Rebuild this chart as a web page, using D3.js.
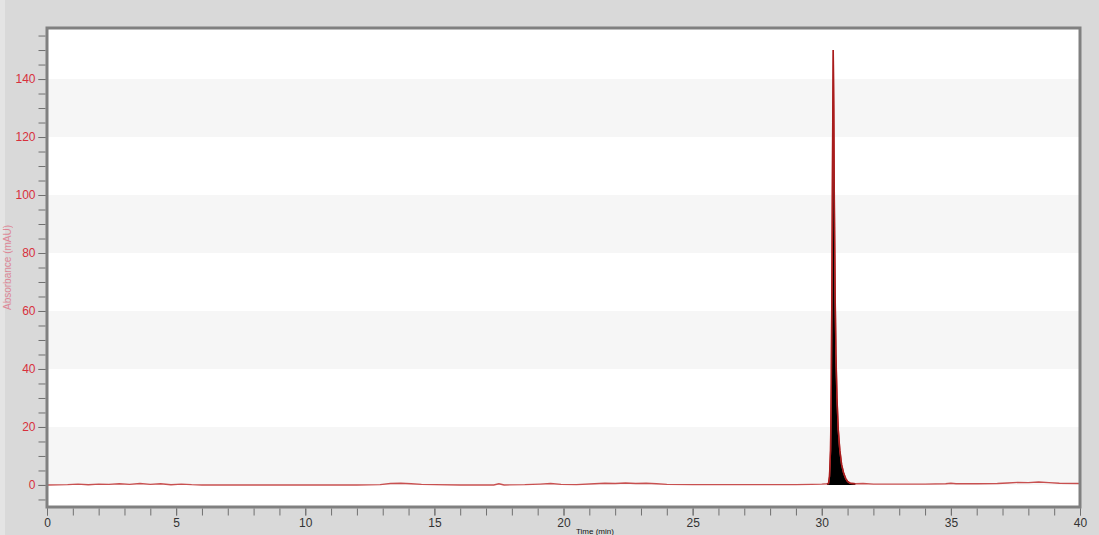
<!DOCTYPE html>
<html>
<head>
<meta charset="utf-8">
<script src="https://cdn.jsdelivr.net/npm/d3@7"></script>
<style>
  html, body { margin: 0; padding: 0; background: #d9d9d9; }
  svg { display: block; }
</style>
</head>
<body>
<svg id="chart" width="1099" height="535"></svg>
<script>
// Retention time (min) and detector signal (mAU)
const timeMin = [
  0, 0.8, 1.2, 1.6, 2.0, 2.4, 2.8, 3.2, 3.6, 4.0, 4.4, 4.8, 5.2, 5.6, 6.0,
  7, 8, 9, 10, 11, 12, 12.9, 13.3, 13.7, 14.1, 14.5, 15, 16, 17.3, 17.5, 17.7,
  18.5, 19.1, 19.5, 19.9, 20.5, 21.2, 21.6, 22.0, 22.4, 22.8, 23.2, 23.6, 24.0,
  25, 26, 27, 28, 29, 29.6, 30.0, 30.2,
  30.26, 30.30, 30.34, 30.37, 30.40, 30.425, 30.445, 30.465, 30.49, 30.52, 30.55,
  30.59, 30.64, 30.70, 30.77, 30.85, 30.93, 31.0, 31.1,
  31.3, 31.6, 32, 33, 34, 34.8, 35.0, 35.2, 36, 36.8, 37.2, 37.6, 38.0, 38.4,
  38.8, 39.2, 40
];
const signal = [
  0.0, 0.1, 0.3, 0.1, 0.3, 0.2, 0.4, 0.2, 0.5, 0.2, 0.4, 0.1, 0.3, 0.1, 0.0,
  0.0, 0.0, 0.0, 0.0, 0.0, 0.0, 0.1, 0.5, 0.6, 0.4, 0.2, 0.1, 0.0, 0.0, 0.4, 0.0,
  0.1, 0.3, 0.5, 0.2, 0.1, 0.4, 0.6, 0.5, 0.7, 0.5, 0.6, 0.4, 0.2,
  0.1, 0.1, 0.1, 0.1, 0.1, 0.2, 0.3, 0.4,
  0.5, 3, 12, 35, 80, 125, 150, 130, 95, 65, 45,
  30, 19, 12, 7, 4, 2.2, 1.2, 0.6,
  0.4, 0.5, 0.3, 0.3, 0.3, 0.4, 0.6, 0.4, 0.4, 0.5, 0.7, 0.9, 0.8, 1.0,
  0.8, 0.6, 0.5
];
const peakStart = 30.2, peakEnd = 31.3;

const xMajorTicks = [0, 5, 10, 15, 20, 25, 30, 35, 40];
const xMinorTicks = d3.range(0, 41, 1);
const yMajorTicks = [0, 20, 40, 60, 80, 100, 120, 140];
const yMinorTicks = d3.range(-5, 156, 5);

const xTitle = "Time (min)";
const yTitle = "Absorbance (mAU)";

const svg = d3.select("#chart");
const W = 1099, H = 535;
const plot = { left: 47, right: 1080, top: 28, bottom: 507 };
const font = "Liberation Sans, Arial, sans-serif";

const x = d3.scaleLinear().domain([0, 40]).range([plot.left, plot.right]);
const y = d3.scaleLinear().domain([-7.6, 157.6]).range([plot.bottom, plot.top]);

// page background
svg.append("rect").attr("width", W).attr("height", H).attr("fill", "#d9d9d9");
svg.append("rect").attr("x", 0).attr("y", 0).attr("width", 5).attr("height", H).attr("fill", "#e4e4e4");

const defs = svg.append("defs");
defs.append("clipPath").attr("id", "plotClip")
  .append("rect").attr("x", plot.left).attr("y", plot.top)
  .attr("width", plot.right - plot.left).attr("height", plot.bottom - plot.top);

// y-axis title along the left edge
svg.append("text")
  .attr("transform", `translate(11,${(y(60) + y(90)) / 2}) rotate(-90)`)
  .attr("text-anchor", "middle")
  .attr("font-family", font)
  .attr("font-size", 10)
  .attr("fill", "#e0506a")
  .attr("opacity", 0.6)
  .text(yTitle);

// plot area with alternating bands
svg.append("rect")
  .attr("x", plot.left).attr("y", plot.top)
  .attr("width", plot.right - plot.left).attr("height", plot.bottom - plot.top)
  .attr("fill", "#ffffff");
const bandPairs = [];
for (let i = 0; i < yMajorTicks.length - 1; i += 2) bandPairs.push([yMajorTicks[i], yMajorTicks[i + 1]]);
svg.append("g").selectAll("rect").data(bandPairs).join("rect")
  .attr("x", plot.left).attr("width", plot.right - plot.left)
  .attr("y", d => y(d[1])).attr("height", d => y(d[0]) - y(d[1]))
  .attr("fill", "#f6f6f6");

const data = timeMin.map((t, i) => ({ t, v: signal[i] }));
const g = svg.append("g").attr("clip-path", "url(#plotClip)");

// filled peak
const peakData = data.filter(d => d.t >= peakStart && d.t <= peakEnd);
g.append("path")
  .datum(peakData)
  .attr("fill", "#000000")
  .attr("d", d3.area().x(d => x(d.t)).y0(y(0)).y1(d => y(d.v)));

// trace
g.append("path")
  .datum(data)
  .attr("fill", "none")
  .attr("stroke", "#c85050")
  .attr("stroke-width", 1.4)
  .attr("d", d3.line().x(d => x(d.t)).y(d => y(d.v)));
g.append("path")
  .datum(peakData)
  .attr("fill", "none")
  .attr("stroke", "#a81c1c")
  .attr("stroke-width", 1.5)
  .attr("d", d3.line().x(d => x(d.t)).y(d => y(d.v)));

// frame
svg.append("rect")
  .attr("x", plot.left).attr("y", plot.top)
  .attr("width", plot.right - plot.left).attr("height", plot.bottom - plot.top)
  .attr("fill", "none").attr("stroke", "#808080").attr("stroke-width", 3);

// y axis
const yMinor = svg.append("g").attr("transform", `translate(${plot.left - 1.5},0)`)
  .call(d3.axisLeft(y).tickValues(yMinorTicks).tickSize(7).tickFormat(""));
const yMajor = svg.append("g").attr("transform", `translate(${plot.left - 1.5},0)`)
  .call(d3.axisLeft(y).tickValues(yMajorTicks).tickSize(7).tickPadding(3));
[yMinor, yMajor].forEach(a => {
  a.select(".domain").remove();
  a.selectAll("line").attr("stroke", "#707070");
});
yMajor.selectAll("text")
  .attr("fill", "#d8303c")
  .attr("font-family", font)
  .attr("font-size", 12);

// x axis
const xMinor = svg.append("g").attr("transform", `translate(0,${plot.bottom + 1.5})`)
  .call(d3.axisBottom(x).tickValues(xMinorTicks).tickSize(7).tickFormat(""));
const xMajor = svg.append("g").attr("transform", `translate(0,${plot.bottom + 1.5})`)
  .call(d3.axisBottom(x).tickValues(xMajorTicks).tickSize(7).tickPadding(3));
[xMinor, xMajor].forEach(a => {
  a.select(".domain").remove();
  a.selectAll("line").attr("stroke", "#707070");
});
xMajor.selectAll("text")
  .attr("fill", "#333333")
  .attr("font-family", font)
  .attr("font-size", 12);

// x-axis title at the bottom edge, just right of the "20" label
svg.append("text")
  .attr("x", 576).attr("y", 534)
  .attr("text-anchor", "start")
  .attr("font-family", font)
  .attr("font-size", 8)
  .attr("fill", "#111111")
  .text(xTitle);
</script>
</body>
</html>
